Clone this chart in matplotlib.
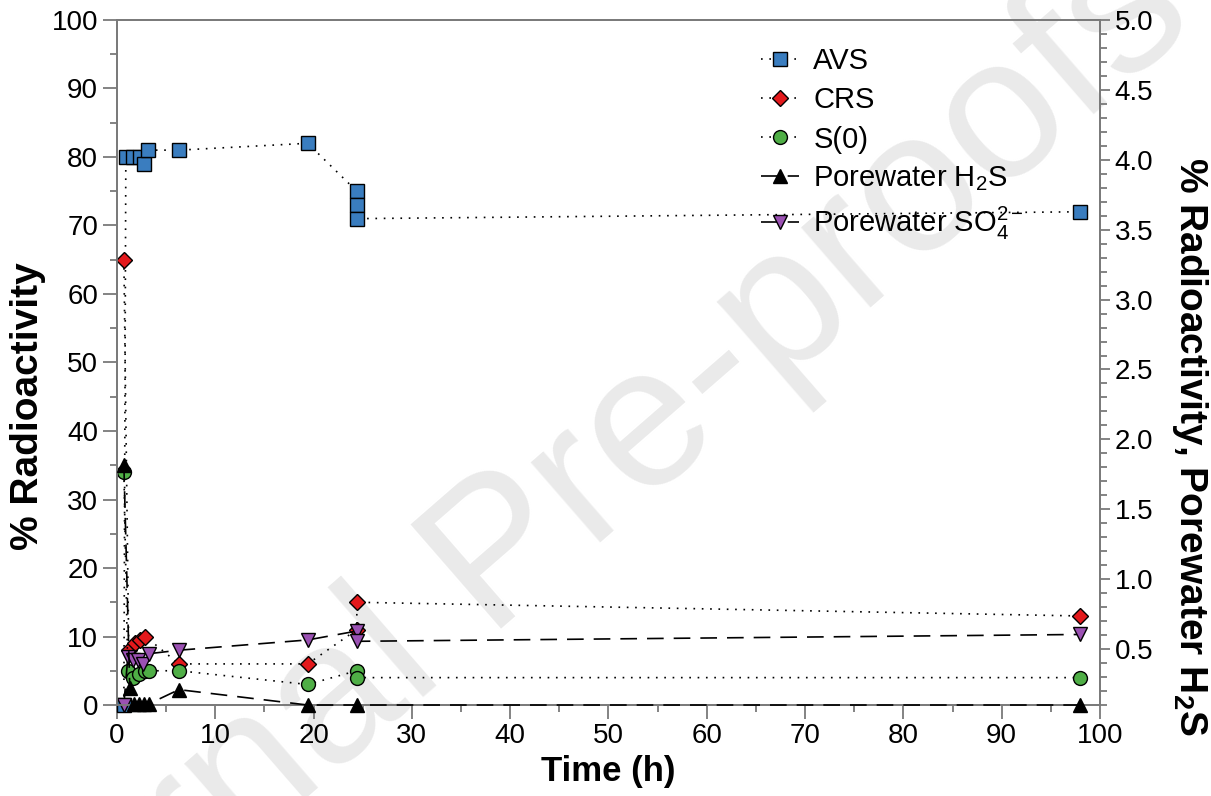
import matplotlib
matplotlib.use("Agg")
from matplotlib import pyplot as plt
from matplotlib.ticker import MultipleLocator

plt.rcParams["font.family"] = ["Liberation Sans", "DejaVu Sans"]
plt.rcParams["mathtext.fontset"] = "custom"
plt.rcParams["mathtext.rm"] = "Liberation Sans"
plt.rcParams["mathtext.it"] = "Liberation Sans"
plt.rcParams["mathtext.bf"] = "Liberation Sans:bold"

# data (time in h, % radioactivity)
avs_t = [0.7, 0.9, 1.6, 2.3, 2.7, 3.2, 6.3, 19.4, 24.4, 24.4, 24.4, 98]
avs_v = [0, 80, 80, 80, 79, 81, 81, 82, 75, 73, 71, 72]

crs_t = [0.7, 1.2, 1.8, 2.3, 2.9, 6.3, 19.4, 24.4, 24.4, 98]
crs_v = [65, 8, 9, 9.5, 10, 6, 6, 11, 15, 13]

s0_t = [0.7, 1.1, 1.6, 2.2, 2.8, 3.3, 6.3, 19.4, 24.4, 24.4, 98]
s0_v = [34, 5, 4, 4.5, 5, 5, 5, 3, 5, 4, 4]

# porewater H2S is on the right axis
h2s_t = [0.7, 1.3, 1.7, 2.2, 2.7, 3.3, 6.3, 19.4, 24.4, 98]
h2s_v = [1.82, 0.22, 0.11, 0.11, 0.11, 0.11, 0.21, 0.1, 0.1, 0.1]

so4_t = [0.7, 1.1, 1.6, 2.1, 2.6, 3.3, 6.3, 19.4, 24.4, 24.4, 98]
so4_v = [0, 7, 6.5, 6.5, 6, 7.5, 8, 9.5, 10.8, 9.3, 10.3]

fig = plt.figure(figsize=(12.11, 7.96), dpi=100)
ax = fig.add_axes([0.0966, 0.1143, 0.8117, 0.8606])
ax2 = ax.twinx()
ax.patch.set_visible(False)
ax2.patch.set_visible(False)

# watermark behind everything
fig.text(0.446, 0.338, "Journal Pre-proofs", fontsize=145, color="#eaeaea",
         rotation=41, ha="center", va="center", rotation_mode="anchor", zorder=-5)

dot = (0, (1, 4))
dash = (0, (10, 6))
mk = dict(markeredgecolor="black", markeredgewidth=1.0, clip_on=False, color="black", linewidth=1.2)
ax.plot(avs_t, avs_v, ls=dot, marker="s", markersize=10.5, markerfacecolor="#3a7dbf", label="AVS", zorder=3, **mk)
ax.plot(crs_t, crs_v, ls=dot, marker="D", markersize=8, markerfacecolor="#e3191c", label="CRS", zorder=4, **mk)
ax.plot(s0_t, s0_v, ls=dot, marker="o", markersize=10, markerfacecolor="#4fae46", label="S(0)", zorder=4, **mk)
l_h2s, = ax2.plot(h2s_t, h2s_v, ls=dash, marker="^", markersize=10.5, markerfacecolor="black",
                  label="Porewater H$_2$S", zorder=4, **mk)
ax.plot(so4_t, so4_v, ls=dash, marker="v", markersize=10.5, markerfacecolor="#9b51b3",
        label="Porewater SO$_4^{2-}$", zorder=5, **mk)

ax.set_xlim(0, 100)
ax.set_ylim(0, 100)
ax2.set_ylim(0.1, 5.0)

ax.xaxis.set_major_locator(MultipleLocator(10))
ax.xaxis.set_minor_locator(MultipleLocator(5))
ax.yaxis.set_major_locator(MultipleLocator(10))
ax.yaxis.set_minor_locator(MultipleLocator(5))
ax2.yaxis.set_minor_locator(MultipleLocator(0.1))
ax2.set_yticks([0.5, 1.0, 1.5, 2.0, 2.5, 3.0, 3.5, 4.0, 4.5, 5.0])

for a in (ax, ax2):
    for s in a.spines.values():
        s.set_color("#7a7a7a")
        s.set_linewidth(1.3)
    a.tick_params(which="major", length=10, width=1.3, color="#7a7a7a", labelsize=20, direction="out")
    a.tick_params(which="minor", length=5, width=1.3, color="#7a7a7a", direction="out")
ax2.tick_params(which="major", length=7)
ax2.tick_params(which="minor", length=5)
ax.tick_params(axis="x", pad=3)

ax.set_xlabel("Time (h)", fontsize=25, fontweight="bold", labelpad=4)
ax.set_ylabel("% Radioactivity", fontsize=28, fontweight="bold", ha="center", va="center")
ax.yaxis.set_label_coords(-0.0905, 0.436)
ax2.set_ylabel("% Radioactivity, Porewater H$_\\mathbf{2}$S", fontsize=28, fontweight="bold",
               rotation=270, ha="center", va="center")
ax2.yaxis.set_label_coords(1.092, 0.377)

h1, lab1 = ax.get_legend_handles_labels()
handles = h1[:3] + [l_h2s] + h1[3:]
labels = lab1[:3] + [l_h2s.get_label()] + lab1[3:]
ax2.legend(handles, labels, loc="upper left", bbox_to_anchor=(0.655, 0.96), frameon=False,
           fontsize=21, handlelength=1.3, handletextpad=0.5, labelspacing=0.38,
           borderaxespad=0, borderpad=0)

fig.savefig("out.png", dpi=100)
